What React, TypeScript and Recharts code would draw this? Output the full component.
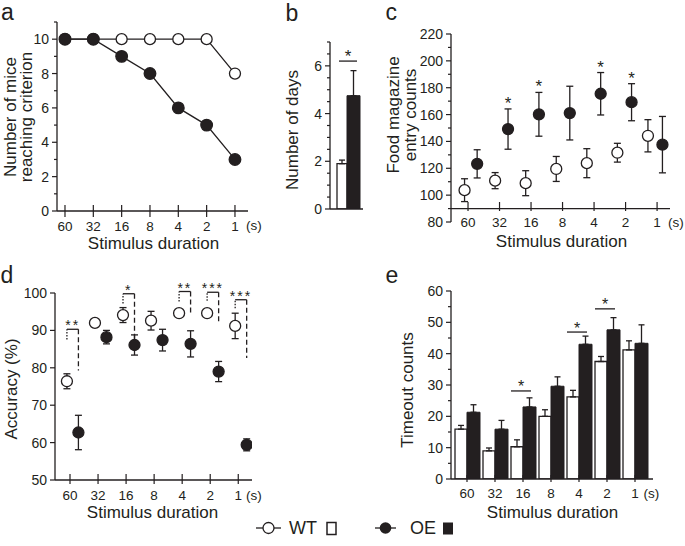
import React from "react";
import {
  LineChart,
  Line,
  ScatterChart,
  Scatter,
  BarChart,
  Bar,
  XAxis,
  YAxis,
  ErrorBar,
  ReferenceLine,
  ReferenceDot,
} from "recharts";

const INK = "#231f20";
const FONT = '"Liberation Sans", Arial, sans-serif';

const DURATIONS = ["60", "32", "16", "8", "4", "2", "1"];

// a: number of mice reaching criterion
const miceWT = [10, 10, 10, 10, 10, 10, 8];
const miceOE = [10, 10, 9, 8, 6, 5, 3];

// b: number of days
const daysMean = [1.9, 4.75];
const daysErr = [0.15, 1.05];
const daysSigY = 6.2;

// c: food magazine entry counts
const foodWT = [103.7, 110.8, 108.9, 119.5, 123.8, 131.6, 144.2];
const foodWTErr = [8.5, 6, 9.3, 9.3, 10.8, 7, 12];
const foodOE = [123.3, 149.2, 160.2, 161.1, 175.5, 169.2, 137.6];
const foodOEErr = [10.5, 15, 16.3, 20, 15.8, 13.8, 21];
const foodSigIdx = [1, 2, 4, 5];

// d: accuracy (%)
const accWT = [76.4, 92.0, 94.1, 92.6, 94.6, 94.6, 91.2];
const accWTErr = [2, 1, 2, 2.5, 1, 1, 3.4];
const accOE = [62.7, 88.2, 86.1, 87.4, 86.4, 79.0, 59.4];
const accOEErr = [4.6, 1.8, 2.7, 2.9, 3.5, 2.7, 1.6];
const accSigIdx = [0, 2, 4, 5, 6];
const accSigTop = [90.3, 99.8, 100.4, 100.2, 98.2];
const accSigWtEnd = [87.6, 97.2, 97.7, 97.9, 95.9];
const accSigOeEnd = [79.3, 87.6, 94.6, 91.9, 82.6];
const accSigMark = ["**", "*", "**", "***", "***"];

// e: timeout counts
const timeWT = [15.9, 9.0, 10.3, 20, 26.2, 37.5, 41.2];
const timeWTErr = [1.2, 0.9, 2.2, 2.1, 2.1, 1.6, 2.9];
const timeOE = [21.3, 15.9, 23.0, 29.6, 43, 47.6, 43.3];
const timeOEErr = [2.4, 2.8, 2.9, 3.0, 2.6, 3.9, 5.9];
const timeSigCat = ["16", "4", "2"];
const timeSigY = [28.1, 46.9, 54.3];

const IDX = DURATIONS.map((_, i) => i);
const steps = (a: number, b: number, s: number) => {
  const out: number[] = [];
  for (let v = a; v <= b + 1e-9; v += s) out.push(Math.round(v * 100) / 100);
  return out;
};

// small horizontal offsets of the two genotypes around each tick
const cWtX = (i: number) => i * 0.97 - 0.11;
const cOeX = (i: number) => i * 0.98 + 0.29;
const dWtX = (i: number) => i - 0.11;
const dOeX = (i: number) => i + 0.3;

const miceData = IDX.map((i) => ({ x: i, wt: miceWT[i], oe: miceOE[i] }));
const daysData = [
  { name: "", wt: daysMean[0], oe: daysMean[1], wtErr: [0, daysErr[0]], oeErr: [0, daysErr[1]] },
];
const foodWTData = IDX.map((i) => ({ x: cWtX(i), y: foodWT[i], err: foodWTErr[i] }));
const foodOEData = IDX.map((i) => ({ x: cOeX(i), y: foodOE[i], err: foodOEErr[i] }));
const accWTData = IDX.map((i) => ({ x: dWtX(i), y: accWT[i], err: accWTErr[i] }));
const accOEData = IDX.map((i) => ({ x: dOeX(i), y: accOE[i], err: accOEErr[i] }));
const timeData = IDX.map((i) => ({
  name: DURATIONS[i],
  wt: timeWT[i],
  oe: timeOE[i],
  wtErr: [0, timeWTErr[i]],
  oeErr: [0, timeOEErr[i]],
}));

function yTick(majorEvery: number) {
  return (props: any) => {
    const { x, y, payload } = props;
    const v = Number(payload.value);
    const q = v / majorEvery;
    const major = Math.abs(q - Math.round(q)) < 1e-6;
    return (
      <g>
        <line x1={x} x2={x - (major ? 5 : 3)} y1={y} y2={y} stroke={INK} strokeWidth={1.2} />
        {major && (
          <text x={x - 8} y={y} textAnchor="end" dominantBaseline="central" fontSize={14} fill={INK}>
            {v}
          </text>
        )}
      </g>
    );
  };
}

function xTick(top: number, bottom: number, dy: number) {
  return (props: any) => {
    const { x, y, payload } = props;
    const label = typeof payload.value === "number" ? DURATIONS[Math.round(payload.value)] : payload.value;
    return (
      <g>
        <line x1={x} x2={x} y1={y + top} y2={y + bottom} stroke={INK} strokeWidth={1.2} />
        <text x={x} y={y + dy} textAnchor="middle" dominantBaseline="central" fontSize={13.5} fill={INK}>
          {label}
        </text>
      </g>
    );
  };
}

const openDot = (p: any) => (
  <circle cx={p.cx} cy={p.cy} r={5.5} fill="#fff" stroke={INK} strokeWidth={1.3} />
);
const fillDot = (p: any) => (
  <circle cx={p.cx} cy={p.cy} r={5.5} fill={INK} stroke={INK} strokeWidth={1.3} />
);

const axisLine = { stroke: INK, strokeWidth: 1.3 };

function PanelA() {
  return (
    <LineChart width={260} height={251} data={miceData} margin={{ top: 22, right: 12, bottom: 0, left: 0 }}>
      <XAxis dataKey="x" type="number" domain={[-0.282, 6.46]} ticks={IDX} allowDataOverflow interval={0}
        height={40} axisLine={axisLine} tickLine={false} tickSize={0} tickMargin={0} tick={xTick(-6, 6, 15)} />
      <YAxis type="number" domain={[0, 11]} ticks={steps(0, 11, 1)} allowDataOverflow interval={0}
        width={57} axisLine={axisLine} tickLine={false} tickSize={0} tickMargin={0} tick={yTick(2)} />
      <Line dataKey="wt" stroke={INK} strokeWidth={1.3} isAnimationActive={false}
        dot={{ r: 5.5, fill: "#fff", stroke: INK, strokeWidth: 1.3 }} />
      <Line dataKey="oe" stroke={INK} strokeWidth={1.3} isAnimationActive={false}
        dot={{ r: 5.8, fill: INK, stroke: INK, strokeWidth: 1.3 }} />
    </LineChart>
  );
}

function PanelB() {
  return (
    <BarChart width={90} height={249} data={daysData} barGap={0} margin={{ top: 42, right: 7, bottom: 0, left: 0 }}>
      <XAxis dataKey="name" height={40} axisLine={axisLine} tick={false} tickLine={false} padding={{ left: 4, right: 0 }} />
      <YAxis type="number" domain={[0, 7]} ticks={steps(0, 7, 0.5)} allowDataOverflow interval={0}
        width={50} axisLine={axisLine} tickLine={false} tickSize={0} tickMargin={0} tick={yTick(2)} />
      <Bar dataKey="wt" barSize={10} fill="#fff" stroke={INK} strokeWidth={1.3} isAnimationActive={false}>
        <ErrorBar dataKey="wtErr" direction="y" width={3} stroke={INK} strokeWidth={1.3} />
      </Bar>
      <Bar dataKey="oe" barSize={13} fill={INK} stroke={INK} strokeWidth={1} isAnimationActive={false}>
        <ErrorBar dataKey="oeErr" direction="y" width={3} stroke={INK} strokeWidth={1.3} />
      </Bar>
      <ReferenceLine y={daysSigY} shape={(p: any) => (
        <g>
          <line x1={p.x1 + 9} x2={p.x2 - 6} y1={p.y1} y2={p.y2} stroke={INK} strokeWidth={1.3} />
          <text x={(p.x1 + p.x2 + 3) / 2} y={p.y1 + 1} textAnchor="middle" fontSize={17} fill={INK}>*</text>
        </g>
      )} />
    </BarChart>
  );
}

function PanelC() {
  return (
    <ScatterChart width={305} height={252} margin={{ top: 34, right: 15, bottom: 0, left: 0 }}>
      <XAxis dataKey="x" type="number" domain={[-0.54, 6.41]} ticks={IDX} allowDataOverflow interval={0}
        height={30} axisLine={false} tickLine={false} tickSize={0} tickMargin={0} tick={xTick(-20, -11, 0)} />
      <YAxis dataKey="y" type="number" domain={[80, 220]} ticks={steps(80, 220, 10)} allowDataOverflow interval={0}
        width={71} axisLine={axisLine} tickLine={false} tickSize={0} tickMargin={0} tick={yTick(20)} />
      <ReferenceLine y={90} stroke={INK} strokeWidth={1.3} />
      <Scatter data={foodWTData} shape={openDot} isAnimationActive={false}>
        <ErrorBar dataKey="err" direction="y" width={3.5} stroke={INK} strokeWidth={1.3} />
      </Scatter>
      <Scatter data={foodOEData} shape={fillDot} isAnimationActive={false}>
        <ErrorBar dataKey="err" direction="y" width={3.5} stroke={INK} strokeWidth={1.3} />
      </Scatter>
      {foodSigIdx.map((i) => (
        <ReferenceDot key={i} x={foodOEData[i].x} y={foodOEData[i].y + foodOEData[i].err} r={0}
          shape={(p: any) => (
            <text x={p.cx} y={p.cy} textAnchor="middle" fontSize={17} fill={INK}>*</text>
          )} />
      ))}
    </ScatterChart>
  );
}

function PanelD() {
  return (
    <ScatterChart width={265} height={240} margin={{ top: 23, right: 13, bottom: 0, left: 0 }}>
      <XAxis dataKey="x" type="number" domain={[-0.535, 6.49]} ticks={IDX} allowDataOverflow interval={0}
        height={30} axisLine={axisLine} tickLine={false} tickSize={0} tickMargin={0} tick={xTick(-6, 4, 15.5)} />
      <YAxis dataKey="y" type="number" domain={[50, 100]} ticks={steps(50, 100, 10)} allowDataOverflow interval={0}
        width={55} axisLine={axisLine} tickLine={false} tickSize={0} tickMargin={0} tick={yTick(10)} />
      {accSigIdx.map((i, k) => (
        <ReferenceLine key={`l${k}`} ifOverflow="visible" stroke={INK} strokeWidth={1.3} strokeDasharray="1.5 1.5"
          segment={[{ x: dWtX(i), y: accSigWtEnd[k] }, { x: dWtX(i), y: accSigTop[k] }]} />
      ))}
      {accSigIdx.map((i, k) => (
        <ReferenceLine key={`r${k}`} ifOverflow="visible" stroke={INK} strokeWidth={1.3} strokeDasharray="5 3"
          segment={[{ x: dOeX(i), y: accSigTop[k] }, { x: dOeX(i), y: accSigOeEnd[k] }]} />
      ))}
      {accSigIdx.map((i, k) => (
        <ReferenceLine key={`t${k}`} ifOverflow="visible"
          segment={[{ x: dWtX(i), y: accSigTop[k] }, { x: dOeX(i), y: accSigTop[k] }]}
          shape={(p: any) => (
            <g>
              <line x1={p.x1} x2={p.x2} y1={p.y1} y2={p.y2} stroke={INK} strokeWidth={1.3} />
              <text x={(p.x1 + p.x2) / 2} y={p.y1 + 1} textAnchor="middle" fontSize={14} letterSpacing={2} fill={INK}>
                {accSigMark[k]}
              </text>
            </g>
          )} />
      ))}
      <Scatter data={accWTData} shape={openDot} isAnimationActive={false}>
        <ErrorBar dataKey="err" direction="y" width={3.5} stroke={INK} strokeWidth={1.3} />
      </Scatter>
      <Scatter data={accOEData} shape={fillDot} isAnimationActive={false}>
        <ErrorBar dataKey="err" direction="y" width={3.5} stroke={INK} strokeWidth={1.3} />
      </Scatter>
    </ScatterChart>
  );
}

function PanelE() {
  return (
    <BarChart width={285} height={239} data={timeData} barGap={0} margin={{ top: 21, right: 12, bottom: 0, left: 0 }}>
      <XAxis dataKey="name" height={30} axisLine={axisLine} tickLine={false} tickSize={0} tickMargin={0}
        interval={0} padding={{ left: 2, right: 4 }} tick={xTick(-4, 3, 14.5)} />
      <YAxis type="number" domain={[0, 60]} ticks={steps(0, 60, 5)} allowDataOverflow interval={0}
        width={71} axisLine={axisLine} tickLine={false} tickSize={0} tickMargin={0} tick={yTick(10)} />
      <Bar dataKey="wt" barSize={12} fill="#fff" stroke={INK} strokeWidth={1.3} isAnimationActive={false}>
        <ErrorBar dataKey="wtErr" direction="y" width={3} stroke={INK} strokeWidth={1.3} />
      </Bar>
      <Bar dataKey="oe" barSize={13} fill={INK} stroke={INK} strokeWidth={1} isAnimationActive={false}>
        <ErrorBar dataKey="oeErr" direction="y" width={3} stroke={INK} strokeWidth={1.3} />
      </Bar>
      {timeSigCat.map((c, k) => (
        <ReferenceLine key={c} segment={[{ x: c, y: timeSigY[k] }, { x: c, y: timeSigY[k] }]}
          shape={(p: any) => (
            <g>
              <line x1={p.x1 - 12} x2={p.x1 + 8} y1={p.y1} y2={p.y1} stroke={INK} strokeWidth={1.3} />
              <text x={p.x1 - 2} y={p.y1 + 1.5} textAnchor="middle" fontSize={16} fill={INK}>*</text>
            </g>
          )} />
      ))}
    </BarChart>
  );
}

const rot = (x: number, y: number) => `translate(${x},${y}) rotate(-90)`;

export default function App() {
  return (
    <div style={{ position: "absolute", left: 0, top: 0, width: 685, height: 546, background: "#fff", fontFamily: FONT }}>
      <div style={{ position: "absolute", left: 0, top: 0 }}><PanelA /></div>
      <div style={{ position: "absolute", left: 280, top: 0 }}><PanelB /></div>
      <div style={{ position: "absolute", left: 380, top: 0 }}><PanelC /></div>
      <div style={{ position: "absolute", left: 0, top: 270 }}><PanelD /></div>
      <div style={{ position: "absolute", left: 380, top: 270 }}><PanelE /></div>
      <svg width={685} height={546} style={{ position: "absolute", left: 0, top: 0, pointerEvents: "none" }}
        fontFamily={FONT} fill={INK}>
        <text x={1} y={20} fontSize={23}>a</text>
        <text x={285.5} y={20.5} fontSize={23}>b</text>
        <text x={385.5} y={20} fontSize={23}>c</text>
        <text x={0.5} y={283} fontSize={23}>d</text>
        <text x={385.5} y={283} fontSize={23}>e</text>

        <g fontSize={17} textAnchor="middle" dominantBaseline="central">
          <text x={153.5} y={243}>Stimulus duration</text>
          <text x={561.5} y={241}>Stimulus duration</text>
          <text x={152.5} y={512.5}>Stimulus duration</text>
          <text x={552.5} y={512.5}>Stimulus duration</text>
          <text transform={rot(10, 117)}>Number of mice</text>
          <text transform={rot(26.5, 117)}>reaching criterion</text>
          <text transform={rot(292, 130)}>Number of days</text>
          <text transform={rot(393.5, 115)}>Food magazine</text>
          <text transform={rot(410, 115)}>entry counts</text>
          <text transform={rot(11.5, 389)}>Accuracy (%)</text>
          <text transform={rot(407, 390)}>Timeout counts</text>
        </g>
        <g fontSize={13.5} dominantBaseline="central">
          <text x={246} y={225}>(s)</text>
          <text x={668} y={222}>(s)</text>
          <text x={246} y={495}>(s)</text>
          <text x={643.5} y={493.5}>(s)</text>
        </g>

        <line x1={256} x2={281} y1={528} y2={528} stroke={INK} strokeWidth={1.3} />
        <circle cx={268.5} cy={528} r={5.5} fill="#fff" stroke={INK} strokeWidth={1.3} />
        <text x={289} y={528} fontSize={18} dominantBaseline="central">WT</text>
        <rect x={327} y={522.5} width={9} height={12} fill="#fff" stroke={INK} strokeWidth={1.5} />
        <line x1={375} x2={396} y1={528} y2={528} stroke={INK} strokeWidth={1.3} />
        <circle cx={385.5} cy={528} r={5.8} fill={INK} />
        <text x={410} y={528} fontSize={18} dominantBaseline="central">OE</text>
        <rect x={443} y={522.5} width={10} height={12} fill={INK} />
      </svg>
    </div>
  );
}
